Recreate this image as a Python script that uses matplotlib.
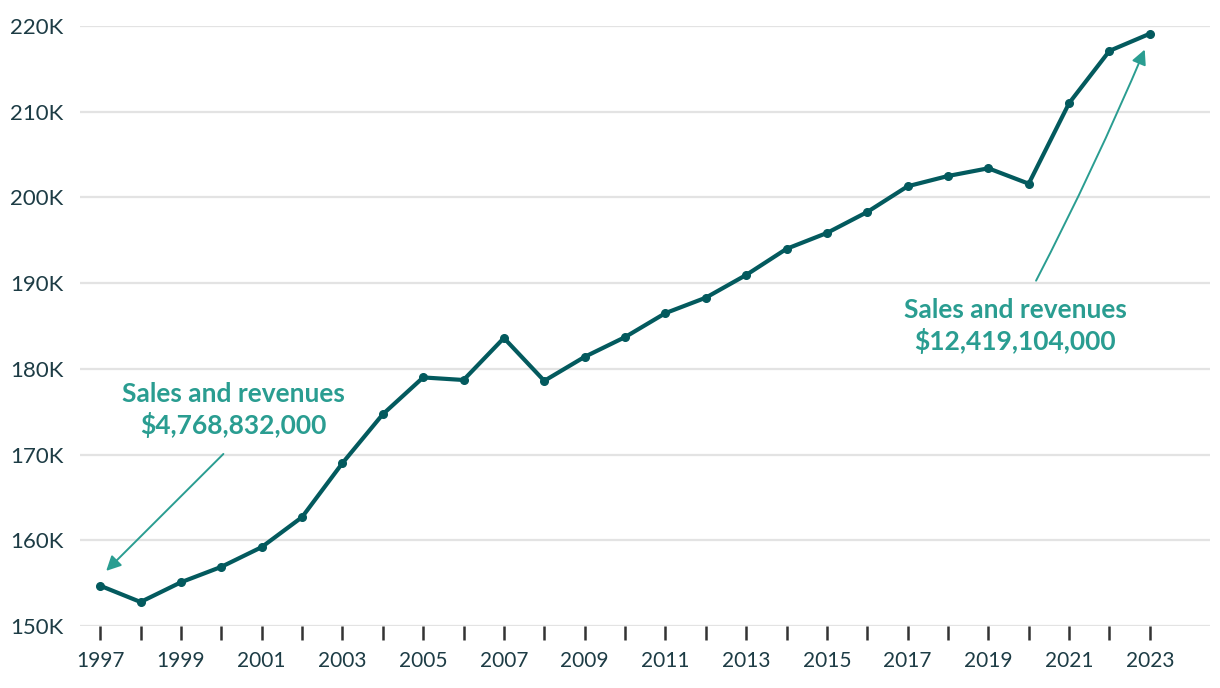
import numpy as np
import matplotlib.pyplot as plt
from matplotlib.ticker import FuncFormatter, MultipleLocator

plt.rcParams['font.family'] = ['Lato', 'DejaVu Sans']

years = np.arange(1997, 2024)
employees = [154700, 152800, 155100, 156900, 159200, 162700, 169000, 174700,
             179000, 178700, 183600, 178600, 181400, 183700, 186500, 188300,
             190950, 194000, 195850, 198300, 201300, 202500, 203400, 201600,
             211000, 217100, 219100]

line_color = "#035a5e"
note_color = "#2a9d91"
text_color = "#1d3c45"

fig = plt.figure(figsize=(12.2, 6.88), dpi=100)
ax = fig.add_axes([80/1220, 1-626/688, 1130/1220, 600/688])

ax.plot(years, employees, color=line_color, lw=3, marker='o', ms=5.5, zorder=3)

ax.set_xlim(1996.5, 2024.49)
ax.set_ylim(150000, 220000)
ax.yaxis.set_major_locator(MultipleLocator(10000))
ax.yaxis.set_major_formatter(FuncFormatter(lambda v, p: f"{int(round(v/1000))}K"))
ax.set_xticks(years)
ax.set_xticklabels([str(y) if (y - 1997) % 2 == 0 else "" for y in years])

ax.grid(axis='y', color='#e3e3e3', lw=1.6, zorder=0)
for s in ax.spines.values():
    s.set_visible(False)
ax.tick_params(axis='y', length=0, pad=12, labelsize=16, labelcolor=text_color)
ax.tick_params(axis='x', length=10, width=1.8, color='#333333', pad=8,
               labelsize=15, labelcolor=text_color)

# annotations
ax.text(2000.29, 175200, "Sales and revenues\n$4,768,832,000", ha='center', va='center',
        fontsize=19, fontweight='bold', color=note_color, linespacing=1.25)
ax.annotate("", xy=(1997.1, 156200), xytext=(2000.1, 170300),
            arrowprops=dict(arrowstyle='-|>', color=note_color, lw=1.4, mutation_scale=22))

ax.text(2019.66, 185000, "Sales and revenues\n$12,419,104,000", ha='center', va='center',
        fontsize=19, fontweight='bold', color=note_color, linespacing=1.25)
ax.annotate("", xy=(2022.9, 217550), xytext=(2020.15, 190000),
            arrowprops=dict(arrowstyle='-|>', color=note_color, lw=1.4, mutation_scale=22,
                            connectionstyle='arc3,rad=0.02'))

fig.savefig("out.png", dpi=100)
